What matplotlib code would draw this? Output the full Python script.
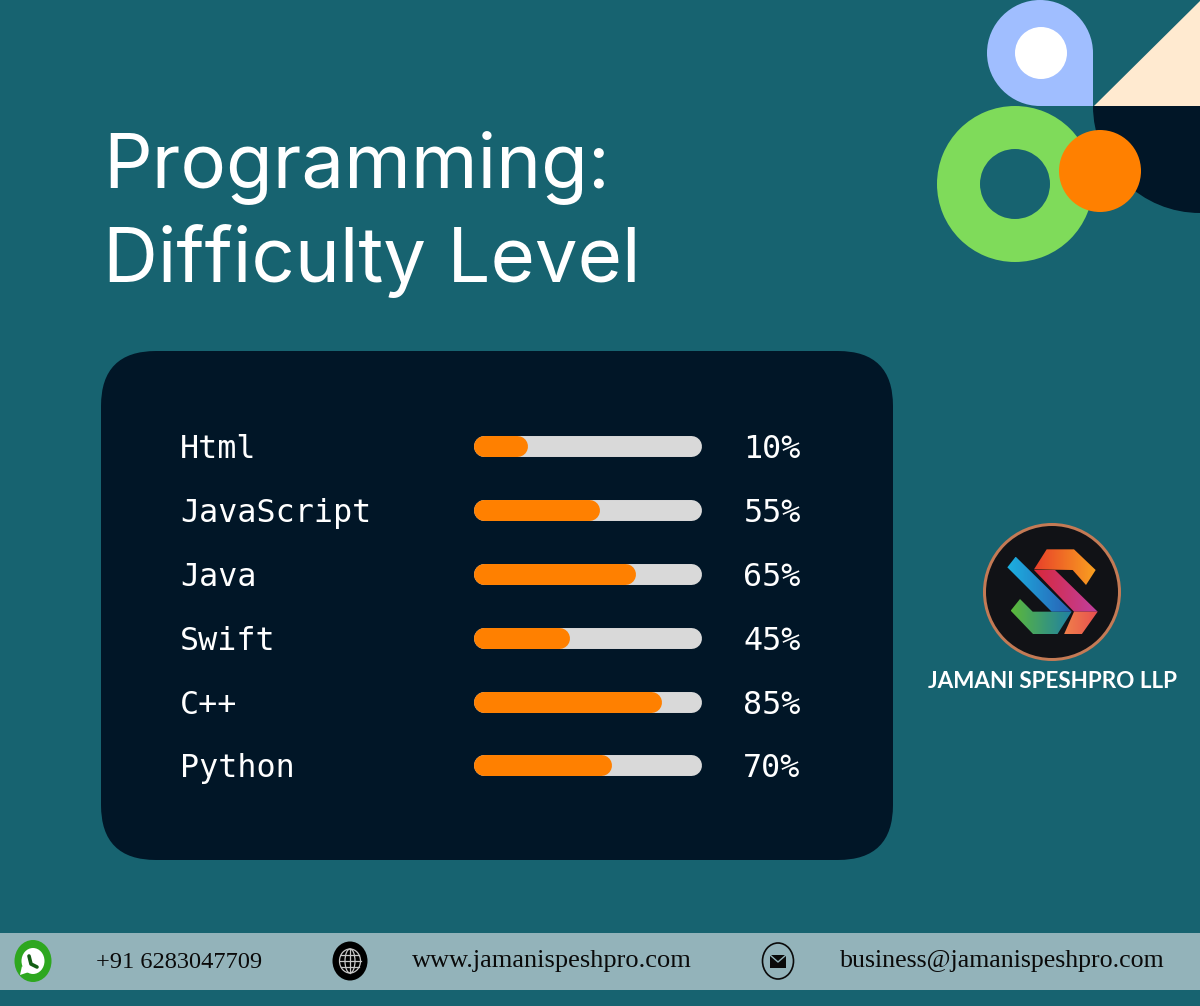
import numpy as np
import matplotlib
matplotlib.use("Agg")
import matplotlib.pyplot as plt
from matplotlib.patches import Circle, Ellipse, FancyBboxPatch, PathPatch, Polygon, Rectangle, Wedge
from matplotlib.path import Path

languages = ["Html", "JavaScript", "Java", "Swift", "C++", "Python"]
percent_labels = ["10%", "55%", "65%", "45%", "85%", "70%"]
# how far the orange bars really reach (not the same as the labels)
bar_values = [23.7, 55.3, 71.0, 42.0, 82.5, 60.5]

BG = "#176370"
DARK = "#011627"
ORANGE = "#FF8000"
TRACK = "#D9D9D9"
STRIP = "#93B3BA"
INK = "#0A0A0A"

fig = plt.figure(figsize=(12, 10.06), dpi=100, facecolor=BG)

# full page axes, 1 unit = 1 pixel
page = fig.add_axes([0, 0, 1, 1])
page.set_xlim(0, 1200)
page.set_ylim(1006, 0)
page.axis("off")


def gradient_poly(ax, pts, c1, c2, z=5):
    # polygon filled with a left to right colour gradient
    pts = np.array(pts, dtype=float)
    poly = Polygon(pts, closed=True, fc="none", ec="none", transform=ax.transData)
    ax.add_patch(poly)
    cmap = matplotlib.colors.LinearSegmentedColormap.from_list("g", [c1, c2])
    extent = [pts[:, 0].min(), pts[:, 0].max(), pts[:, 1].max(), pts[:, 1].min()]
    im = ax.imshow(np.linspace(0, 1, 64).reshape(1, -1), cmap=cmap, extent=extent,
                   aspect="auto", zorder=z, interpolation="bilinear")
    im.set_clip_path(poly)
    # imshow resets the limits
    ax.set_xlim(0, 1200)
    ax.set_ylim(1006, 0)


# decoration top right
pin = Path([(987, 53), (987, 24), (1011, 0), (1040, 0), (1069, 0), (1093, 24), (1093, 53),
            (1093, 106), (1040, 106), (1011, 106), (987, 82), (987, 53), (987, 53)],
           [Path.MOVETO, Path.CURVE4, Path.CURVE4, Path.CURVE4, Path.CURVE4, Path.CURVE4, Path.CURVE4,
            Path.LINETO, Path.LINETO, Path.CURVE4, Path.CURVE4, Path.CURVE4, Path.CLOSEPOLY])
page.add_patch(PathPatch(pin, fc="#A0BEFF", ec="none"))
page.add_patch(Circle((1041, 53), 26, fc="white", ec="none"))
page.add_patch(Polygon([(1094, 106), (1200, 1), (1200, 106)], fc="#FFEAD0", ec="none"))
page.add_patch(Wedge((1200, 106), 107, 90, 180, fc=DARK, ec="none"))
page.add_patch(Wedge((1015, 184), 78, 0, 360, width=43, fc="#7FDB5A", ec="none"))
page.add_patch(Circle((1100, 171), 41, fc=ORANGE, ec="none"))

page.text(103, 187, "Programming:", color="white", fontsize=54.8, family="Inter", weight="normal")
page.text(103, 282, "Difficulty Level", color="white", fontsize=54.8, family="Inter", weight="normal")

# dark panel
page.add_patch(FancyBboxPatch((156, 406), 682, 399, boxstyle="round,pad=55,rounding_size=55",
                              fc=DARK, ec="none"))

# bars, x axis is percent of the grey track
bars = fig.add_axes([474 / 1200, 1 - 765.3 / 1006, 228 / 1200, (765.3 - 446.3) / 1006])
bars.set_xlim(0, 100.4)
bars.set_ylim(len(languages) - 1, 0)
bars.axis("off")
cap = 4.6
for i, (name, val, lab) in enumerate(zip(languages, bar_values, percent_labels)):
    bars.plot([cap, 100 - cap], [i, i], color=TRACK, lw=15.1, solid_capstyle="round", clip_on=False)
    bars.plot([cap, val - cap], [i, i], color=ORANGE, lw=15.1, solid_capstyle="round", clip_on=False)
    bars.text(-129.4, i, name, color="white", fontsize=22.9, family="DejaVu Sans Mono",
              va="center_baseline", ha="left")
    bars.text(118.6, i, lab, color="white", fontsize=22.9, family="DejaVu Sans Mono",
              va="center_baseline", ha="left")

# logo
page.add_patch(Circle((1052, 592), 69, fc="#C47A55", ec="none"))
page.add_patch(Circle((1052, 592), 66, fc="#111216", ec="none"))


def logo(pts):
    return [(1000 + x / 3, 540 + y / 3) for x, y in pts]


gradient_poly(page, logo([(32, 212), (60, 177), (98, 215), (215, 215), (172, 283), (100, 283)]),
              "#5CB83A", "#1F80A5")
gradient_poly(page, logo([(22, 82), (47, 50), (215, 215), (155, 215)]),
              "#1CB0E0", "#2A60B5")
gradient_poly(page, logo([(102, 88), (140, 28), (222, 28), (287, 90), (258, 135), (218, 90)]),
              "#E8402A", "#F9A020")
gradient_poly(page, logo([(102, 90), (165, 90), (293, 215), (222, 215)]),
              "#D8283A", "#C040A0")
gradient_poly(page, logo([(222, 215), (293, 215), (245, 283), (192, 283)]),
              "#F0804A", "#E85050")
page.text(1052.5, 681, "JAMANI SPESHPRO LLP", color="white", fontsize=16.2, family="Lato", weight="bold",
          ha="center", va="center")

# footer strip
page.add_patch(Rectangle((0, 933), 1200, 57, fc=STRIP, ec="none"))
page.text(96, 968, "+91 6283047709", color=INK, fontsize=17.6, family="Liberation Serif")
page.text(412, 967, "www.jamanispeshpro.com", color=INK, fontsize=19, family="Liberation Serif")
page.text(840, 967, "business@jamanispeshpro.com", color=INK, fontsize=18.6, family="Liberation Serif")

# whatsapp icon
page.add_patch(Ellipse((33, 961), 37, 42, fc="#2EA71F", ec="none"))
page.add_patch(Ellipse((33, 961), 23, 26, fc="white", ec="none"))
page.add_patch(Polygon([(22, 966), (20, 975), (29, 972)], fc="white", ec="none"))
page.plot([29, 31, 37], [956, 964, 967], color="#135E13", lw=2.6, solid_capstyle="round")

# globe icon
page.add_patch(Ellipse((350, 961), 35, 39, fc="black", ec="none"))
page.add_patch(Ellipse((350, 961), 21, 24, fc="none", ec="#C8C8C8", lw=0.9))
page.add_patch(Ellipse((350, 961), 10, 24, fc="none", ec="#C8C8C8", lw=0.9))
page.plot([339.5, 360.5], [961, 961], color="#C8C8C8", lw=0.9)
page.plot([341, 359], [955, 955], color="#C8C8C8", lw=0.9)
page.plot([341, 359], [967, 967], color="#C8C8C8", lw=0.9)
page.plot([350, 350], [949, 973], color="#C8C8C8", lw=0.9)

# mail icon
page.add_patch(Ellipse((778, 961), 31, 36, fc="none", ec=INK, lw=1.2))
page.add_patch(Rectangle((770, 955), 16, 13, fc=INK, ec="none"))
page.plot([770, 778, 786], [955, 962, 955], color=STRIP, lw=1.0)

fig.savefig("out.png", dpi=100, facecolor=BG)
